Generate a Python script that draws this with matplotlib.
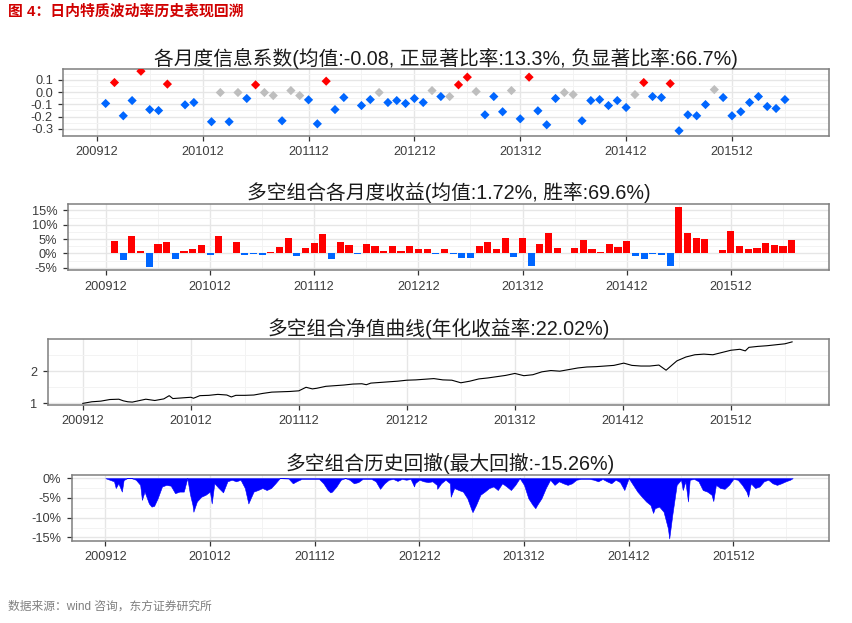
import matplotlib
matplotlib.use('Agg')
import matplotlib.pyplot as plt

plt.rcParams['font.family'] = ['Liberation Sans', 'Noto Sans CJK SC']

# ---------------- data ----------------
year_ticks = [0, 12, 24, 36, 48, 60, 72]          # months after 2009-12
year_labels = ['200912', '201012', '201112', '201212', '201312', '201412', '201512']

# Panel 1: monthly IC (month index after 2009-12), value, significance
ic_month = [1, 2, 3, 4, 5, 6, 7, 8, 10, 11, 13, 14, 15, 16, 17, 18, 19, 20, 21, 22,
            23, 24, 25, 26, 27, 28, 30, 31, 32, 33, 34, 35, 36, 37, 38, 39, 40, 41, 42, 43,
            44, 45, 46, 47, 48, 49, 50, 51, 52, 53, 54, 55, 56, 57, 58, 59, 60, 61, 62, 63,
            64, 65, 66, 67, 68, 69, 70, 71, 72, 73, 74, 75, 76, 77, 78]
ic_value = [-0.093, 0.079, -0.194, -0.069, 0.172, -0.143, -0.151, 0.066, -0.104, -0.085,
            -0.243, -0.003, -0.243, -0.003, -0.052, 0.060, -0.003, -0.028, -0.235, 0.013,
            -0.028, -0.063, -0.260, 0.090, -0.143, -0.044, -0.110, -0.061, -0.003, -0.085,
            -0.069, -0.093, -0.052, -0.085, 0.013, -0.036, -0.036, 0.060, 0.123, 0.005,
            -0.186, -0.036, -0.161, 0.013, -0.219, 0.123, -0.153, -0.268, -0.052, -0.003,
            -0.020, -0.235, -0.069, -0.061, -0.110, -0.069, -0.126, -0.020, 0.079, -0.036,
            -0.044, 0.070, -0.317, -0.186, -0.194, -0.102, 0.021, -0.044, -0.194, -0.161,
            -0.085, -0.036, -0.118, -0.134, -0.061]
ic_sig = ['neg', 'pos', 'neg', 'neg', 'pos', 'neg', 'neg', 'pos', 'neg', 'neg',
          'neg', 'none', 'neg', 'none', 'neg', 'pos', 'none', 'none', 'neg', 'none',
          'none', 'neg', 'neg', 'pos', 'neg', 'neg', 'neg', 'neg', 'none', 'neg',
          'neg', 'neg', 'neg', 'neg', 'none', 'neg', 'none', 'pos', 'pos', 'none',
          'neg', 'neg', 'neg', 'none', 'neg', 'pos', 'neg', 'neg', 'neg', 'none',
          'none', 'neg', 'neg', 'neg', 'neg', 'neg', 'neg', 'none', 'pos', 'neg',
          'neg', 'pos', 'neg', 'neg', 'neg', 'neg', 'none', 'neg', 'neg', 'neg',
          'neg', 'neg', 'neg', 'neg', 'neg']

# Panel 2: monthly long-short returns (%)
ret_month = list(range(1, 80))
ret_value = [4.4, -2.4, 6.2, 0.8, -4.8, 3.4, 4.1, -2.0, 0.8, 1.5,
             3.0, -0.6, 6.2, 0.0, 4.0, -0.6, -0.3, -0.6, 0.5, 2.2,
             5.3, -0.9, 1.9, 3.6, 6.9, -2.0, 4.1, 3.0, -0.2, 3.4,
             2.6, 0.8, 2.6, 0.8, 2.6, 1.5, 1.5, -0.2, 1.5, -0.2,
             -1.5, -1.5, 2.7, 4.1, 1.5, 5.5, -1.3, 5.5, -4.4, 3.4,
             7.2, 1.9, 0.0, 1.9, 4.8, 1.5, 0.5, 3.4, 2.2, 4.4,
             -0.9, -2.0, -0.3, -0.6, -4.4, 16.2, 7.2, 5.5, 5.1, 0.0,
             1.2, 7.9, 2.7, 1.5, 1.9, 3.7, 3.0, 2.7, 4.8]

# Panel 3: net value curve (month index, NAV)
nav_month = [0, 1, 2, 3, 4, 4.5, 5, 5.5, 6, 7, 8, 9, 9.6, 10, 11, 12, 12.3, 13, 14, 15,
             16, 16.5, 17, 18, 19, 20, 21, 22, 23, 24, 24.8, 25.5, 26, 27, 28, 29, 30, 31,
             31.5, 32, 33, 34, 35, 36, 37, 38, 39, 40, 41, 42, 43, 44, 45, 46, 47, 48, 49,
             50, 51, 52, 53, 54, 55, 56, 57, 58, 59, 60.1, 61, 62, 63, 64, 64.8, 65.5, 66,
             67, 68, 69, 70, 71, 72, 73, 73.6, 74, 75, 76, 77, 78, 78.8]
nav_value = [1.00, 1.05, 1.07, 1.12, 1.13, 1.08, 1.05, 1.04, 1.07, 1.13, 1.09, 1.14, 1.24,
             1.15, 1.17, 1.19, 1.16, 1.24, 1.25, 1.28, 1.26, 1.20, 1.25, 1.25, 1.26, 1.31,
             1.35, 1.36, 1.37, 1.39, 1.50, 1.45, 1.47, 1.53, 1.55, 1.57, 1.60, 1.61, 1.58,
             1.63, 1.65, 1.67, 1.69, 1.72, 1.73, 1.75, 1.77, 1.73, 1.72, 1.64, 1.69, 1.76,
             1.79, 1.83, 1.87, 1.93, 1.86, 1.89, 1.98, 2.02, 2.00, 2.05, 2.10, 2.13, 2.14,
             2.16, 2.18, 2.25, 2.18, 2.16, 2.16, 2.19, 2.03, 2.20, 2.32, 2.44, 2.51, 2.53,
             2.51, 2.58, 2.65, 2.68, 2.63, 2.74, 2.77, 2.79, 2.82, 2.85, 2.91]

# Panel 4: drawdown (month index, %)
dd_month = [0, 0.5, 1, 1.2, 1.5, 1.9, 2.1, 2.5, 3, 3.5, 4, 4.2, 4.5, 5, 5.3, 5.6, 6, 6.5, 7,
            7.5, 8, 8.5, 9, 9.4, 9.7, 10, 10.1, 10.5, 11, 11.5, 12, 12.2, 12.5, 13, 13.5, 14,
            14.5, 15, 15.5, 16, 16.4, 17, 17.5, 18, 18.5, 19, 19.5, 20, 21, 21.5, 22, 22.5,
            23, 24, 24.5, 25, 25.5, 25.8, 26, 26.5, 27, 27.5, 28, 28.5, 29, 29.5, 30, 30.5,
            31, 31.5, 32, 32.5, 33, 33.5, 34, 34.5, 35, 35.4, 35.5, 36, 36.5, 37, 37.5, 38,
            38.05, 38.5, 39, 39.5, 39.6, 40, 40.5, 41, 41.5, 42, 42.1, 42.5, 43, 43.5, 44,
            44.5, 45, 45.5, 46, 46.5, 47, 47.5, 48, 48.5, 49, 49.3, 49.5, 50, 50.5, 51,
            51.5, 52, 52.5, 53, 53.5, 54, 54.5, 55, 55.5, 56, 56.5, 57, 57.5, 58, 58.5, 59,
            59.5, 60, 60.5, 61, 61.5, 62, 62.5, 62.8, 63, 63.5, 64, 64.5, 64.65, 65, 65.5,
            66, 66.2, 66.5, 66.8, 67, 67.5, 68, 68.5, 69, 69.5, 69.7, 70, 70.5, 71, 71.5,
            72, 72.5, 73, 73.5, 73.7, 74, 74.5, 75, 75.5, 76, 76.5, 77, 77.5, 78, 78.5, 78.8]
dd_value = [0, -0.4, -0.8, -2.5, -1.3, -3.4, -0.5, 0, 0, -0.4, -1.7, -5.5, -3.4, -6.4, -7.2,
            -7.0, -5.1, -2.1, -1.7, -1.9, -3.8, -3.4, -3.4, 0, -4.0, -6.8, -8.5, -5.9, -4.7,
            -4.2, -3.4, -6.4, -1.3, -2.5, -3.6, -0.8, -0.4, -0.8, -0.4, -2.5, -6.4, -3.4,
            -3.0, -2.5, -3.0, -2.5, -1.3, 0, -0.1, -1.3, -0.7, -0.2, -0.2, -0.2, -0.2, -1.3,
            -3.0, -3.6, -3.4, -2.1, -0.4, 0, -0.4, -1.3, -1.0, -0.2, -0.2, -0.2, -0.8, -2.7,
            -1.3, -0.4, -0.2, -0.7, -0.2, -0.4, -0.2, -2.1, -1.3, -0.4, -0.8, -1.0, -0.8,
            -1.7, -2.7, -1.3, -0.4, -1.3, -4.7, -2.5, -3.0, -3.4, -5.1, -8.1, -8.6, -6.8,
            -4.2, -3.4, -2.5, -2.1, -3.0, -1.3, -2.1, -3.0, -1.7, 0, -1.7, -5.1, -6.8, -7.6,
            -6.8, -5.1, -2.5, -0.4, -1.7, -0.8, -1.3, -1.7, -1.3, -0.4, -0.2, -0.2, -0.2,
            -0.4, -0.8, -0.2, -0.8, -1.3, -0.4, -1.0, -3.0, 0, -1.7, -3.4, -4.7, -5.9, -6.8,
            -8.8, -7.6, -7.2, -8.5, -12.7, -15.26, -9.3, -1.7, -0.4, -3.0, -0.8, -5.9, -0.4,
            -0.2, -0.8, -3.0, -3.4, -4.2, -5.8, -1.7, -2.5, -2.7, -1.7, -0.2, -0.4, -1.7,
            -3.4, -4.7, -1.3, -2.5, -2.1, -0.8, -0.4, -1.3, -1.7, -1.3, -0.8, -0.4, 0]

titles = ['各月度信息系数(均值:-0.08, 正显著比率:13.3%, 负显著比率:66.7%)',
          '多空组合各月度收益(均值:1.72%, 胜率:69.6%)',
          '多空组合净值曲线(年化收益率:22.02%)',
          '多空组合历史回撤(最大回撤:-15.26%)']
header = '图 4：日内特质波动率历史表现回溯'
footer = '数据来源：wind 咨询，东方证券研究所'

# ---------------- layout ----------------
W, H = 853, 623
fig = plt.figure(figsize=(W / 100, H / 100), dpi=100)


def box(l, t, r, b):
    return [l / W, 1 - b / H, (r - l) / W, (b - t) / H]


RED = '#FF0000'
BLUE = '#0066FF'
GRAY = '#BEBEBE'
sig_color = {'pos': RED, 'neg': BLUE, 'none': GRAY}
minor_x = [6, 18, 30, 42, 54, 66, 78]


def style(ax, xlim, ylim, yticks, ylabels, yminor):
    ax.set_xlim(xlim)
    ax.set_ylim(ylim)
    ax.set_xticks(year_ticks)
    ax.set_xticklabels(year_labels)
    ax.set_xticks(minor_x, minor=True)
    ax.set_yticks(yticks)
    ax.set_yticklabels(ylabels)
    ax.set_yticks(yminor, minor=True)
    ax.grid(which='major', color='#e6e6e6', lw=1.0)
    ax.grid(which='minor', color='#f3f3f3', lw=0.7)
    ax.set_axisbelow(True)
    for s in ax.spines.values():
        s.set_color('#7f7f7f')
        s.set_linewidth(1.1)
    ax.tick_params(which='major', length=3.5, width=0.9, color='#333333',
                   labelsize=9.2, labelcolor='#3c3c3c', pad=4)
    ax.tick_params(which='minor', length=0)


def title(ax_box, y, text):
    cx = (ax_box[0] + ax_box[2] / 2)
    fig.text(cx, 1 - y / H, text, ha='center', va='center', fontsize=14.2, color='#1a1a1a')


# Panel 1
b1 = box(63.3, 69, 829, 136)
ax1 = fig.add_axes(b1)
ax1.scatter(ic_month, ic_value, c=[sig_color[s] for s in ic_sig], marker='D', s=22,
            linewidths=0, zorder=3)
style(ax1, (-3.8, 83.0), (-0.36, 0.19), [0.1, 0.0, -0.1, -0.2, -0.3],
      ['0.1', '0.0', '-0.1', '-0.2', '-0.3'], [0.15, 0.05, -0.05, -0.15, -0.25, -0.35])
title(b1, 58, titles[0])

# Panel 2
b2 = box(67.7, 204.3, 829, 270.3)
ax2 = fig.add_axes(b2)
ax2.bar(ret_month, ret_value, width=0.82,
        color=[RED if v > 0 else BLUE for v in ret_value], linewidth=0, zorder=3)
style(ax2, (-4.4, 83.3), (-5.9, 17.1), [15, 10, 5, 0, -5],
      ['15%', '10%', '5%', '0%', '-5%'], [12.5, 7.5, 2.5, -2.5])
title(b2, 193, titles[1])

# Panel 3
b3 = box(47.7, 339.3, 829, 405)
ax3 = fig.add_axes(b3)
ax3.plot(nav_month, nav_value, color='black', lw=0.8, zorder=3)
style(ax3, (-3.9, 82.9), (0.95, 2.99), [1, 2], ['1', '2'], [1.5, 2.5])
title(b3, 329, titles[2])

# Panel 4
b4 = box(71.7, 475, 829.3, 541)
ax4 = fig.add_axes(b4)
ax4.fill_between(dd_month, dd_value, 0, color='#0000FF', linewidth=0.4, edgecolor='#0000FF',
                 zorder=3)
style(ax4, (-3.85, 83.0), (-15.9, 0.8), [0, -5, -10, -15],
      ['0%', '-5%', '-10%', '-15%'], [-2.5, -7.5, -12.5])
title(b4, 463, titles[3])

fig.text(8 / W, 1 - 12 / H, header, ha='left', va='center', fontsize=10.7,
         fontweight='bold', color='#D00000')
fig.text(8 / W, 1 - 607 / H, footer, ha='left', va='center', fontsize=8.5, color='#7f7f7f')

fig.savefig('out.png', dpi=100)
